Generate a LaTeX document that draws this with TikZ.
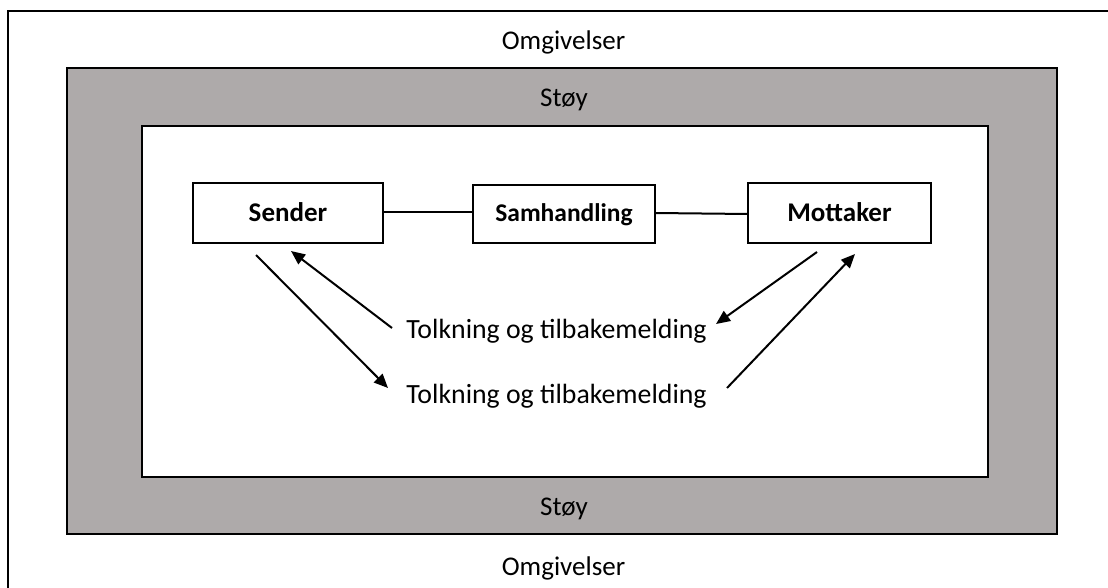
\documentclass[tikz,border=0pt]{standalone}
\usepackage{fontspec}
\setmainfont{Carlito}
\usetikzlibrary{arrows.meta}
\definecolor{noise}{RGB}{174,170,170}
\tikzset{
  frame/.style={draw=black, line width=2.2pt},
  lbl/.style={inner sep=0pt, anchor=base, font=\fontsize{27}{32}\selectfont},
  partbox/.style={draw=black, line width=2.2pt, fill=white},
  boxlbl/.style={inner sep=0pt, anchor=base, font=\fontsize{27}{32}\selectfont\bfseries},
  link/.style={line width=2pt},
  arr/.style={line width=2pt, -{Triangle[length=14pt,width=12pt]}}
}
\begin{document}
\begin{tikzpicture}[x=1pt,y=-1pt]
\clip (0,0) rectangle (1108,588);
\fill[white] (0,0) rectangle (1108,588);
% outer frame (extends beyond the picture on right and bottom)
\draw[frame] (8,11) rectangle (1130,610);
% noise band
\draw[frame, fill=noise] (67,68) rectangle (1057,534);
% inner area
\draw[frame, fill=white] (142,126) rectangle (988,477);

\node[lbl] (omgT) at (563.5,50) {Omgivelser};
\node[lbl] (omgB) at (563.5,575) {Omgivelser};
\node[lbl] (stoyT) at (564,107) {Støy};
\node[lbl] (stoyB) at (564,515) {Støy};

% boxes
\draw[partbox] (193,183) rectangle (383,243);
\draw[partbox] (473,185) rectangle (655,243);
\draw[partbox] (748,183) rectangle (931,243);
\node[boxlbl] (sender) at (288,222) {Sender};
\node[boxlbl, font=\fontsize{25.5}{30}\selectfont\bfseries] (samh) at (564,222) {Samhandling};
\node[boxlbl] (mott) at (839.5,222) {Mottaker};

\coordinate (sR) at (383,212);
\coordinate (saL) at (473,212);
\coordinate (saR) at (655,213);
\coordinate (mL) at (748,214);
\draw[link] (sR) -- (saL);
\draw[link] (saR) -- (mL);

\node[lbl, font=\fontsize{27.8}{32}\selectfont] (tolk1) at (556.5,338) {Tolkning og tilbakemelding};
\node[lbl, font=\fontsize{27.8}{32}\selectfont] (tolk2) at (556.5,403) {Tolkning og tilbakemelding};

\coordinate (a1s) at (256,255);
\coordinate (a1e) at (388,388);
\coordinate (a2s) at (392,328);
\coordinate (a2e) at (291,251);
\coordinate (a3s) at (817,252);
\coordinate (a3e) at (716,324);
\coordinate (a4s) at (727,388);
\coordinate (a4e) at (855,254);
\draw[arr] (a1s) -- (a1e);
\draw[arr] (a2s) -- (a2e);
\draw[arr] (a3s) -- (a3e);
\draw[arr] (a4s) -- (a4e);
\end{tikzpicture}
\end{document}
